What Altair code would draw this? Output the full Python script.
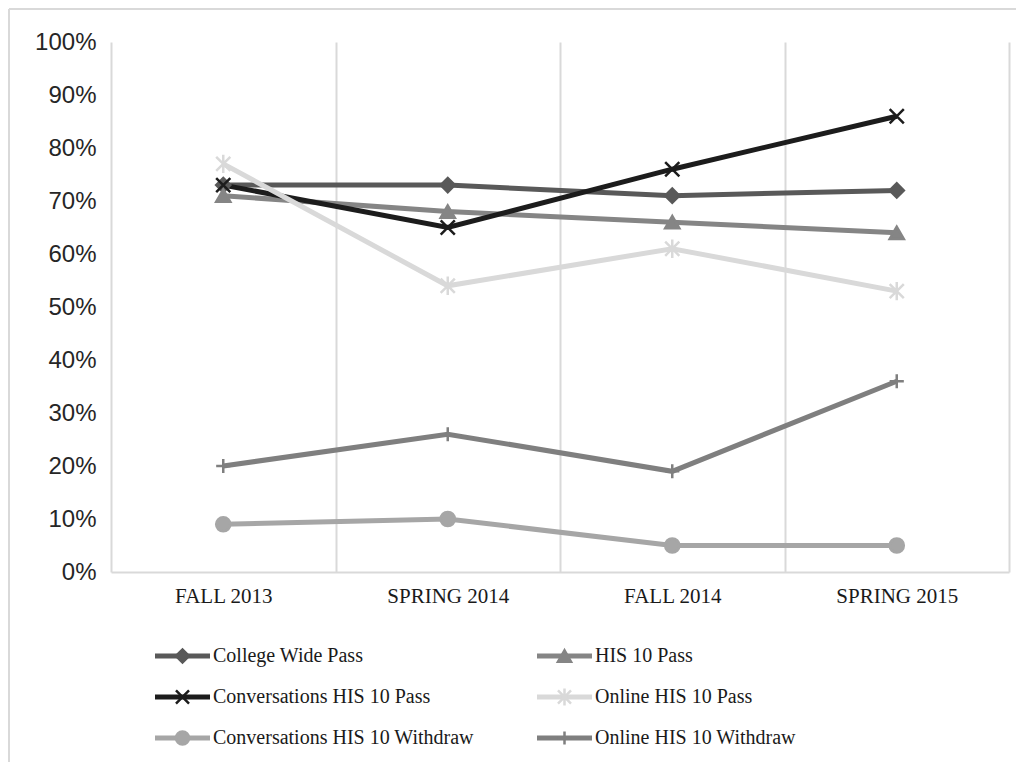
import altair as alt
import pandas as pd

categories = ["FALL 2013", "SPRING 2014", "FALL 2014", "SPRING 2015"]
series = [
    "College Wide Pass",
    "HIS 10 Pass",
    "Conversations HIS 10 Pass",
    "Online HIS 10 Pass",
    "Conversations HIS 10 Withdraw",
    "Online HIS 10 Withdraw",
]
college_wide_pass = [0.73, 0.73, 0.71, 0.72]
his10_pass = [0.71, 0.68, 0.66, 0.64]
conversations_pass = [0.73, 0.65, 0.76, 0.86]
online_pass = [0.77, 0.54, 0.61, 0.53]
conversations_withdraw = [0.09, 0.10, 0.05, 0.05]
online_withdraw = [0.20, 0.26, 0.19, 0.36]
y_ticks = [0, 0.1, 0.2, 0.3, 0.4, 0.5, 0.6, 0.7, 0.8, 0.9, 1.0]

colors = ["#595959", "#858585", "#1c1c1c", "#d9d9d9", "#a6a6a6", "#7f7f7f"]
fills = ["#595959", "#858585", "transparent", "transparent", "#a6a6a6", "transparent"]
shapes = [
    "diamond",
    "triangle-up",
    "M-1,-1L1,1M-1,1L1,-1",
    "M-1,-1L1,1M-1,1L1,-1M0,-1.3L0,1.3",
    "circle",
    "M-1,0L1,0M0,-1L0,1",
]

all_values = [college_wide_pass, his10_pass, conversations_pass,
              online_pass, conversations_withdraw, online_withdraw]
rows = []
for k, (s, vals) in enumerate(zip(series, all_values)):
    for i, (c, v) in enumerate(zip(categories, vals)):
        rows.append({"series": s, "k": k, "idx": i, "category": c, "value": v})
df = pd.DataFrame(rows)

legend_df = pd.DataFrame({
    "series": series,
    "col": [k % 2 for k in range(len(series))],
    "row": [k // 2 for k in range(len(series))],
})

cat_array = "[" + ",".join("'" + c + "'" for c in categories) + "]"
grid_vals = [-0.5 + 0.5 * j for j in range(2 * len(categories) + 1)]

color_enc = alt.Color("series:N", scale=alt.Scale(domain=series, range=colors), legend=None)
fill_enc = alt.Fill("series:N", scale=alt.Scale(domain=series, range=fills), legend=None)
shape_enc = alt.Shape("series:N", scale=alt.Scale(domain=series, range=shapes), legend=None)

x_enc = alt.X(
    "idx:Q",
    scale=alt.Scale(domain=[-0.5, len(categories) - 0.5], nice=False, zero=False),
    axis=alt.Axis(
        values=grid_vals,
        title=None,
        grid=True,
        gridColor={"condition": {"test": "datum.value % 1 !== 0", "value": "#d9d9d9"},
                   "value": "transparent"},
        gridWidth=2,
        ticks=False,
        domain=True,
        domainColor="#d9d9d9",
        domainWidth=2,
        labelExpr="datum.value % 1 === 0 ? " + cat_array + "[datum.value] : ''",
        labelFont="Liberation Serif",
        labelFontSize=21,
        labelColor="#1a1a1a",
        labelPadding=13,
        labelOverlap=False,
        labelFlush=False,
    ),
)
y_enc = alt.Y(
    "value:Q",
    scale=alt.Scale(domain=[0, 1], nice=False),
    axis=alt.Axis(
        values=y_ticks,
        format=".0%",
        title=None,
        grid=False,
        domain=False,
        ticks=False,
        labelFont="Liberation Sans",
        labelFontSize=24,
        labelColor="#262626",
        labelPadding=15,
    ),
)

lines = alt.Chart(df).mark_line(strokeWidth=5).encode(
    x=x_enc, y=y_enc, color=color_enc, order="idx:Q"
)
points = alt.Chart(df).mark_point(filled=False, strokeWidth=2.5, opacity=1, size=200).encode(
    x=x_enc, y=y_enc, color=color_enc, fill=fill_enc, shape=shape_enc
)
main = alt.layer(lines, points)

leg_x = alt.X("col:Q", scale=alt.Scale(domain=[0, 1], range=[44, 426]), axis=None)
leg_y = alt.Y("row:Q", scale=alt.Scale(domain=[0, 2], range=[614, 696]), axis=None)

leg_rule = alt.Chart(legend_df).mark_rule(strokeWidth=5, x2Offset=55).encode(
    x=leg_x, x2=alt.X2("col:Q"), y=leg_y, color=color_enc
)
leg_pts = alt.Chart(legend_df).mark_point(filled=False, strokeWidth=2.5, opacity=1, size=170,
                                          xOffset=27.5).encode(
    x=leg_x, y=leg_y, color=color_enc, fill=fill_enc, shape=shape_enc
)
leg_txt = alt.Chart(legend_df).mark_text(
    align="left", baseline="middle", dx=58, font="Liberation Serif",
    fontSize=20, color="#1a1a1a"
).encode(x=leg_x, y=leg_y, text="series:N")
legend = alt.layer(leg_rule, leg_pts, leg_txt)

frame_left = alt.Chart(legend_df).mark_rule(color="#d9d9d9", strokeWidth=2).encode(
    x=alt.value(-102), y=alt.value(-33), y2=alt.value(720)
)
frame_top = alt.Chart(legend_df).mark_rule(color="#d9d9d9", strokeWidth=2).encode(
    x=alt.value(-102), x2=alt.value(905), y=alt.value(-33)
)

chart = alt.layer(main, legend, frame_left, frame_top).resolve_scale(
    x="independent", y="independent"
).properties(
    width=898, height=530, padding=0, background="white"
).configure_view(stroke=None)

chart.save("out.html", embed_options={"renderer": "svg", "actions": False})
